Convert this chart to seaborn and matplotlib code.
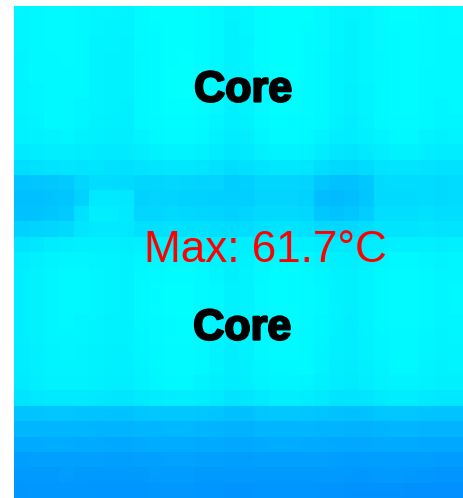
import numpy as np
import pandas as pd
import matplotlib
matplotlib.use("Agg")
import matplotlib.pyplot as plt
import matplotlib.patheffects as pe
from matplotlib.colors import LinearSegmentedColormap
import seaborn as sns

# Die temperature map (deg C), 32 rows (top -> bottom) x 30 columns (left -> right)
row_00 = [60.3, 60.6, 60.8, 60.8, 60.6, 60.3, 60.2, 60.1, 60.8, 61.1, 61.2, 61.2, 61.0, 60.6, 60.1, 60.3, 61.0, 61.2, 61.2, 61.1, 60.8, 60.3, 60.1, 60.3, 60.8, 61.1, 61.1, 60.8, 60.6, 60.8]
row_01 = [60.2, 60.5, 60.7, 60.7, 60.5, 60.2, 60.0, 60.0, 60.7, 61.0, 61.2, 61.2, 60.9, 60.5, 59.9, 60.2, 60.9, 61.2, 61.2, 61.0, 60.7, 60.2, 59.9, 60.3, 60.7, 61.0, 61.0, 60.7, 60.5, 60.7]
row_02 = [60.2, 60.4, 60.7, 60.7, 60.5, 60.1, 60.0, 59.9, 60.7, 61.0, 61.2, 61.2, 60.9, 60.5, 59.9, 60.1, 60.9, 61.2, 61.2, 61.0, 60.7, 60.2, 59.9, 60.3, 60.7, 61.0, 61.0, 60.7, 60.5, 60.6]
row_03 = [60.1, 60.4, 60.6, 60.7, 60.4, 60.1, 59.9, 59.9, 60.6, 61.0, 61.2, 61.3, 61.0, 60.5, 59.8, 60.1, 60.9, 61.2, 61.2, 61.0, 60.6, 60.1, 59.8, 60.2, 60.6, 61.0, 61.0, 60.7, 60.4, 60.6]
row_04 = [60.1, 60.4, 60.6, 60.6, 60.4, 60.1, 59.9, 59.8, 60.6, 61.0, 61.3, 61.4, 61.1, 60.5, 59.8, 60.1, 60.9, 61.3, 61.3, 61.0, 60.6, 60.1, 59.8, 60.2, 60.6, 61.0, 61.0, 60.6, 60.4, 60.6]
row_05 = [60.0, 60.3, 60.6, 60.6, 60.4, 60.0, 59.8, 59.8, 60.6, 61.0, 61.3, 61.7, 61.1, 60.4, 59.7, 60.0, 60.8, 61.2, 61.2, 61.0, 60.6, 60.0, 59.7, 60.1, 60.6, 60.9, 60.9, 60.6, 60.4, 60.5]
row_06 = [60.0, 60.3, 60.5, 60.5, 60.3, 60.0, 59.8, 59.7, 60.5, 60.9, 61.2, 61.2, 60.9, 60.4, 59.7, 60.0, 60.8, 61.2, 61.2, 60.9, 60.5, 60.0, 59.7, 60.1, 60.5, 60.9, 60.9, 60.6, 60.3, 60.5]
row_07 = [59.8, 60.1, 60.4, 60.4, 60.2, 59.8, 59.6, 59.6, 60.4, 60.8, 61.0, 61.0, 60.8, 60.2, 59.6, 59.8, 60.6, 61.0, 61.0, 60.8, 60.4, 59.8, 59.5, 59.9, 60.4, 60.8, 60.8, 60.4, 60.2, 60.3]
row_08 = [59.6, 59.9, 60.1, 60.2, 59.9, 59.6, 59.4, 59.4, 60.1, 60.5, 60.7, 60.7, 60.5, 59.9, 59.3, 59.5, 60.3, 60.7, 60.7, 60.5, 60.1, 59.5, 59.2, 59.6, 60.1, 60.5, 60.5, 60.1, 59.9, 60.0]
row_09 = [58.9, 59.2, 59.4, 59.5, 59.3, 59.0, 58.9, 58.9, 59.4, 59.8, 60.0, 60.0, 59.8, 59.3, 58.7, 58.9, 59.6, 60.0, 60.0, 59.8, 59.3, 58.7, 58.5, 58.9, 59.4, 59.8, 59.8, 59.4, 59.2, 59.3]
row_10 = [57.8, 58.0, 58.3, 58.5, 58.4, 58.5, 58.2, 58.0, 58.4, 58.6, 58.8, 58.8, 58.6, 58.2, 57.8, 57.9, 58.4, 58.7, 58.7, 58.5, 57.8, 57.2, 57.0, 57.5, 58.3, 58.6, 58.6, 58.3, 58.1, 58.2]
row_11 = [54.9, 55.1, 55.3, 55.6, 56.9, 57.5, 57.5, 57.2, 56.9, 56.9, 57.0, 56.9, 56.6, 56.6, 55.9, 56.1, 56.9, 56.9, 56.9, 56.6, 55.3, 54.8, 54.8, 55.3, 57.3, 57.5, 57.5, 57.5, 57.3, 57.5]
row_12 = [54.5, 54.5, 54.8, 55.1, 56.4, 59.1, 59.1, 58.8, 56.4, 56.6, 56.6, 56.4, 56.4, 56.1, 55.9, 55.9, 56.6, 56.6, 56.6, 56.4, 54.2, 54.0, 54.2, 55.1, 57.2, 57.3, 57.3, 57.5, 57.3, 57.5]
row_13 = [54.8, 54.8, 55.1, 55.6, 58.0, 59.4, 59.4, 59.1, 56.9, 56.9, 57.2, 57.0, 56.9, 56.6, 56.4, 56.6, 57.2, 57.3, 57.3, 57.0, 55.3, 54.8, 55.1, 55.9, 57.7, 57.7, 57.7, 57.9, 57.7, 57.7]
row_14 = [56.4, 56.6, 56.9, 57.2, 58.6, 59.1, 59.1, 58.8, 58.0, 58.0, 58.2, 58.0, 57.9, 57.7, 57.5, 57.7, 58.2, 58.3, 58.3, 58.0, 57.3, 57.0, 57.2, 57.7, 58.3, 58.3, 58.3, 58.5, 58.3, 58.3]
row_15 = [58.3, 58.8, 59.3, 59.5, 59.6, 59.7, 59.6, 59.5, 59.6, 59.8, 59.9, 59.9, 59.7, 59.5, 59.2, 59.4, 59.7, 59.9, 59.9, 59.7, 59.3, 58.9, 58.9, 59.2, 59.5, 59.7, 59.7, 59.6, 59.5, 59.6]
row_16 = [59.3, 59.7, 60.1, 60.3, 60.3, 60.1, 60.0, 59.9, 60.3, 60.6, 60.8, 60.8, 60.5, 60.1, 59.7, 59.9, 60.4, 60.7, 60.7, 60.5, 60.1, 59.6, 59.5, 59.9, 60.2, 60.5, 60.5, 60.3, 60.1, 60.2]
row_17 = [59.5, 59.9, 60.3, 60.4, 60.4, 60.2, 60.0, 59.9, 60.5, 60.8, 61.0, 61.0, 60.7, 60.3, 59.7, 60.0, 60.6, 60.9, 60.9, 60.7, 60.3, 59.8, 59.6, 60.0, 60.4, 60.7, 60.7, 60.4, 60.2, 60.3]
row_18 = [59.5, 59.9, 60.3, 60.5, 60.4, 60.2, 60.0, 59.9, 60.5, 60.9, 61.1, 61.1, 60.8, 60.4, 59.8, 60.1, 60.7, 61.0, 61.0, 60.8, 60.4, 59.9, 59.6, 60.1, 60.5, 60.8, 60.8, 60.5, 60.3, 60.4]
row_19 = [59.5, 59.9, 60.3, 60.5, 60.4, 60.2, 60.0, 59.9, 60.5, 60.9, 61.1, 61.1, 60.8, 60.4, 59.8, 60.1, 60.7, 61.0, 61.0, 60.8, 60.4, 59.9, 59.6, 60.1, 60.5, 60.8, 60.8, 60.5, 60.3, 60.4]
row_20 = [59.4, 59.8, 60.2, 60.4, 60.3, 60.1, 59.9, 59.8, 60.4, 60.8, 61.0, 61.0, 60.7, 60.3, 59.7, 60.0, 60.6, 60.9, 60.9, 60.7, 60.3, 59.8, 59.5, 60.0, 60.4, 60.7, 60.7, 60.4, 60.2, 60.3]
row_21 = [59.4, 59.8, 60.2, 60.3, 60.2, 60.0, 59.8, 59.8, 60.3, 60.7, 60.9, 60.9, 60.6, 60.2, 59.6, 59.9, 60.5, 60.8, 60.8, 60.6, 60.2, 59.7, 59.5, 59.9, 60.3, 60.6, 60.6, 60.3, 60.1, 60.2]
row_22 = [59.3, 59.7, 60.1, 60.2, 60.1, 59.9, 59.7, 59.7, 60.2, 60.6, 60.8, 60.8, 60.5, 60.1, 59.5, 59.8, 60.4, 60.7, 60.7, 60.5, 60.1, 59.6, 59.4, 59.8, 60.2, 60.5, 60.5, 60.2, 60.0, 60.1]
row_23 = [59.2, 59.6, 60.0, 60.1, 60.0, 59.8, 59.6, 59.6, 60.1, 60.5, 60.7, 60.7, 60.4, 60.0, 59.4, 59.7, 60.3, 60.6, 60.6, 60.4, 60.0, 59.5, 59.3, 59.7, 60.1, 60.4, 60.4, 60.1, 59.9, 60.0]
row_24 = [59.0, 59.4, 59.8, 59.9, 59.8, 59.6, 59.4, 59.4, 59.9, 60.2, 60.4, 60.4, 60.1, 59.7, 59.2, 59.4, 60.0, 60.3, 60.3, 60.1, 59.7, 59.2, 59.1, 59.5, 59.8, 60.1, 60.1, 59.8, 59.6, 59.7]
row_25 = [58.4, 58.7, 59.0, 59.1, 59.0, 58.8, 58.6, 58.6, 59.0, 59.3, 59.5, 59.5, 59.2, 58.9, 58.3, 58.5, 59.1, 59.4, 59.4, 59.2, 58.9, 58.4, 58.3, 58.6, 59.0, 59.2, 59.2, 58.9, 58.7, 58.8]
row_26 = [54.9, 55.0, 55.1, 55.1, 55.0, 55.0, 54.6, 54.6, 55.1, 55.3, 55.3, 55.3, 55.2, 55.0, 54.4, 54.5, 55.1, 55.3, 55.3, 55.2, 55.0, 54.8, 54.4, 54.6, 55.1, 55.2, 55.2, 55.0, 54.9, 54.9]
row_27 = [53.4, 53.5, 53.5, 53.5, 53.4, 53.3, 53.1, 53.1, 53.4, 53.5, 53.6, 53.6, 53.5, 53.3, 53.0, 53.0, 53.4, 53.5, 53.5, 53.4, 53.3, 53.1, 52.9, 53.0, 53.3, 53.4, 53.4, 53.2, 53.1, 53.1]
row_28 = [52.1, 52.2, 52.3, 52.3, 52.2, 52.2, 52.0, 52.0, 52.2, 52.3, 52.3, 52.3, 52.2, 52.1, 51.9, 51.9, 52.2, 52.3, 52.3, 52.2, 52.1, 52.0, 51.8, 51.9, 52.1, 52.1, 52.1, 52.0, 51.9, 51.9]
row_29 = [50.8, 51.0, 51.1, 51.1, 51.1, 51.0, 50.9, 50.9, 51.1, 51.1, 51.2, 51.2, 51.1, 51.0, 50.8, 50.8, 51.0, 51.1, 51.1, 51.0, 51.0, 50.9, 50.7, 50.8, 50.9, 50.9, 50.9, 50.8, 50.7, 50.7]
row_30 = [50.4, 50.5, 50.5, 50.6, 50.5, 50.5, 50.4, 50.4, 50.5, 50.6, 50.6, 50.6, 50.5, 50.5, 50.3, 50.3, 50.5, 50.5, 50.5, 50.4, 50.4, 50.3, 50.2, 50.2, 50.3, 50.3, 50.2, 50.1, 50.0, 50.0]
row_31 = [50.0, 50.1, 50.1, 50.1, 50.1, 50.0, 49.9, 49.9, 50.0, 50.1, 50.1, 50.1, 50.0, 50.0, 49.8, 49.8, 49.9, 50.0, 50.0, 49.9, 49.8, 49.7, 49.6, 49.6, 49.6, 49.5, 49.4, 49.4, 49.3, 49.3]

temperature_rows = [row_00, row_01, row_02, row_03, row_04, row_05, row_06, row_07,
                    row_08, row_09, row_10, row_11, row_12, row_13, row_14, row_15,
                    row_16, row_17, row_18, row_19, row_20, row_21, row_22, row_23,
                    row_24, row_25, row_26, row_27, row_28, row_29, row_30, row_31]

block_labels = ["Core", "Core"]
max_label = "Max: {:.1f}\u00b0C"

grid = pd.DataFrame(np.array(temperature_rows))
t_max = grid.values.max()

# Classic jet ramp (dark blue -> blue -> cyan -> yellow -> red -> dark red)
jet = LinearSegmentedColormap.from_list(
    "jet_classic",
    [(0.0, (0.0, 0.0, 0.5)), (0.125, (0.0, 0.0, 1.0)), (0.375, (0.0, 1.0, 1.0)),
     (0.625, (1.0, 1.0, 0.0)), (0.875, (1.0, 0.0, 0.0)), (1.0, (0.5, 0.0, 0.0))],
    N=512,
)

fig = plt.figure(figsize=(4.64, 4.98), dpi=100)
ax = fig.add_axes([14 / 464, 0.0, 450 / 464, 492 / 498])
sns.heatmap(grid, cmap=jet, vmin=20, vmax=130, cbar=False,
            xticklabels=False, yticklabels=False, ax=ax)
ax.set_xlabel("")
ax.set_ylabel("")
for s in ax.spines.values():
    s.set_visible(False)

heavy = [pe.withStroke(linewidth=1.6, foreground="black")]
ax.text(0.509, 0.806, block_labels[0], transform=ax.transAxes, ha="center",
        va="baseline", fontsize=31, fontweight="bold",
        family="Liberation Sans", color="black", path_effects=heavy)
ax.text(0.507, 0.322, block_labels[1], transform=ax.transAxes, ha="center",
        va="baseline", fontsize=31, fontweight="bold",
        family="Liberation Sans", color="black", path_effects=heavy)
ax.text(0.558, 0.480, max_label.format(t_max), transform=ax.transAxes,
        ha="center", va="baseline", fontsize=31.7,
        family="Liberation Sans", color="#ff0000")

fig.savefig("out.png", dpi=100)
